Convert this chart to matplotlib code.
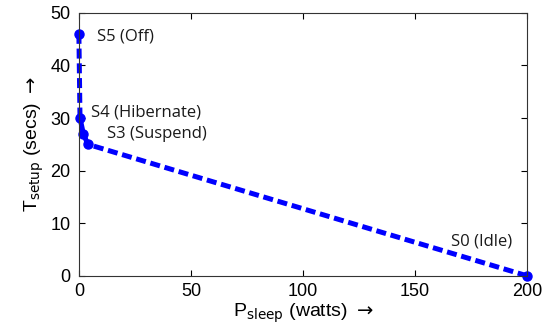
import matplotlib
matplotlib.use("Agg")
import matplotlib.pyplot as plt

# sleep states: power draw (watts) vs setup time (secs)
p_sleep = [0, 0.5, 2, 4, 200]
t_setup = [46, 30, 27, 25, 0]

labels = ["S5 (Off)", "S4 (Hibernate)", "S3 (Suspend)", "S0 (Idle)"]
label_x = [8, 5.5, 12.5, 166]
label_y = [45.5, 31, 27, 6.6]

plt.rcParams['font.family'] = ['Liberation Sans', 'DejaVu Sans']

fig = plt.figure(figsize=(5.44, 3.28), dpi=100)
ax = fig.add_axes([0.145, 0.159, 0.824, 0.802])

ax.plot(p_sleep, t_setup, color='blue', linestyle='--', linewidth=3.6,
        marker='o', markersize=6.5, dashes=(2, 0.95))

for lab, lx, ly in zip(labels, label_x, label_y):
    ax.text(lx, ly, lab, fontsize=12, family=['Open Sans', 'DejaVu Sans'],
            color='#1a1a1a', va='center', ha='left')

ax.set_xlim(0, 200)
ax.set_ylim(0, 50)
ax.set_xticks([0, 50, 100, 150, 200])
ax.set_yticks([0, 10, 20, 30, 40, 50])
ax.tick_params(direction='in', top=True, right=True, labelsize=13, length=4)
ax.tick_params(axis='x', pad=5)
ax.tick_params(axis='y', pad=6)
for s in ax.spines.values():
    s.set_linewidth(0.8)
    s.set_color('#333333')
ax.set_xlabel(r'P$_{\rm sleep}$ (watts) $\rightarrow$', fontsize=14, labelpad=1)
ax.set_ylabel(r'T$_{\rm setup}$ (secs) $\rightarrow$', fontsize=14, labelpad=3)
for line in ax.lines:
    line.set_clip_on(False)

fig.savefig("out.png", dpi=100)
